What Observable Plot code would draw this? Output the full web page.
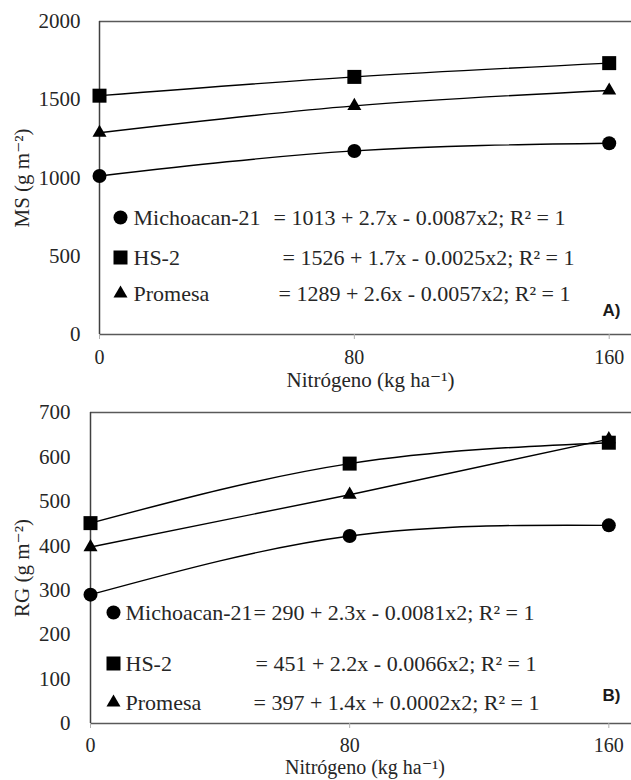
<!DOCTYPE html>
<html><head><meta charset="utf-8">
<script src="https://cdn.jsdelivr.net/npm/d3@7"></script>
<script src="https://cdn.jsdelivr.net/npm/@observablehq/plot@0.6"></script>
<style>
body{margin:0;background:#fff;}
#chart svg{display:block;}
#chart svg, #chart svg g, #chart svg text { font-family: "Liberation Serif", "Times New Roman", "DejaVu Serif", serif !important; }
#chart svg g[font-weight="bold"], #chart svg g[font-weight="bold"] text { font-family: "Liberation Sans", Arial, sans-serif !important; }
</style></head><body><div id="chart"></div>
<script>
// ---- data ----
const nitrogen = [0, 80, 160];
const xTicks = [0, 80, 160];
const cultivars = ["Michoacan-21", "HS-2", "Promesa"];

const msMichoacan = [1013, 1173, 1222];
const msHS2 = [1526, 1646, 1734];
const msPromesa = [1289, 1461, 1559];
const msTicks = [0, 500, 1000, 1500, 2000];
const msEquations = [
  "= 1013 + 2.7x - 0.0087x2; R² = 1",
  "= 1526 + 1.7x - 0.0025x2; R² = 1",
  "= 1289 + 2.6x - 0.0057x2; R² = 1"
];

const rgMichoacan = [290, 422, 446];
const rgHS2 = [451, 585, 632];
const rgPromesa = [397, 515, 640];
const rgTicks = [0, 100, 200, 300, 400, 500, 600, 700];
const rgEquations = [
  "= 290 + 2.3x - 0.0081x2; R² = 1",
  "= 451 + 2.2x - 0.0066x2; R² = 1",
  "= 397 + 1.4x + 0.0002x2; R² = 1"
];

// ---- styling ----
const serif = "Liberation Serif";
const ink = "#262626";
const symbols = ["circle", "square", "triangle"];
const sizes = [7, 7.9, 5.2];

function toRows(seriesList) {
  const rows = [];
  seriesList.forEach((vals, i) => vals.forEach((v, j) => rows.push({cultivar: cultivars[i], n: nitrogen[j], v})));
  return rows;
}

function panel({series, yTicks, yLabel, equations, tag, L}) {
  const rows = toRows(series);
  const yMax = yTicks[yTicks.length - 1];
  const marks = [
    Plot.ruleY([0], {stroke: "#595959", strokeWidth: 1.5}),
    Plot.ruleY([yMax], {stroke: "#595959", strokeWidth: 1.5}),
    Plot.axisX({ticks: xTicks, tickSize: 5, tickPadding: L.xPad, tickFormat: d => String(d), stroke: "#b0b0b0", fill: ink, fontSize: 20, label: null}),
    Plot.axisY({ticks: yTicks, tickSize: 0, tickPadding: L.yPad, tickFormat: d => String(d), fill: ink, fontSize: 21, label: null}),
    Plot.ruleX([0], {stroke: "#404040", strokeWidth: 1.5}),
    Plot.line(rows, {x: "n", y: "v", z: "cultivar", curve: "natural", stroke: "black", strokeWidth: 1.4})
  ];
  cultivars.forEach((c, i) => {
    marks.push(Plot.dot(rows.filter(d => d.cultivar === c), {x: "n", y: "v", symbol: symbols[i], r: sizes[i], fill: "black", stroke: "none"}));
    // legend
    marks.push(Plot.dot([c], {frameAnchor: "top-left", dx: L.mx, dy: L.rows[i], symbol: symbols[i], r: sizes[i], fill: "black", stroke: "none"}));
    marks.push(Plot.text([c], {frameAnchor: "top-left", text: d => d, dx: L.tx, dy: L.rows[i], textAnchor: "start", lineAnchor: "middle", fontSize: 22, fontFamily: serif, fill: ink}));
    marks.push(Plot.text([equations[i]], {frameAnchor: "top-left", text: d => d, dx: L.ex[i], dy: L.rows[i], textAnchor: "start", lineAnchor: "middle", fontSize: 22, fontFamily: serif, fill: ink}));
  });
  marks.push(Plot.text([yLabel], {frameAnchor: "left", text: d => d, dx: L.ylx, rotate: -90, textAnchor: "middle", lineAnchor: "middle", fontSize: 21, fontFamily: serif, fill: ink}));
  marks.push(Plot.text(["Nitrógeno (kg ha⁻¹)"], {frameAnchor: "bottom", text: d => d, dx: L.xlx, dy: L.xly, textAnchor: "middle", lineAnchor: "middle", fontSize: L.xlf, fontFamily: serif, fill: ink}));
  marks.push(Plot.text([tag], {frameAnchor: "bottom-right", text: d => d, dx: -11, dy: L.tagy, textAnchor: "end", lineAnchor: "middle", fontSize: 17, fontWeight: "bold", fontFamily: "Liberation Sans", fill: "#1a1a1a"}));

  return Plot.plot({
    width: 631, height: 390,
    marginLeft: L.ml, marginTop: L.mt, marginBottom: L.mb, marginRight: 0,
    x: {domain: [0, 167]},
    y: {domain: [0, yMax]},
    style: {fontSize: "21px", color: ink, background: "white", overflow: "visible"},
    marks
  });
}

const chart = document.getElementById("chart");
chart.append(panel({
  series: [msMichoacan, msHS2, msPromesa], yTicks: msTicks, yLabel: "MS (g m⁻²)", equations: msEquations, tag: "A)",
  L: {ml: 99, mt: 21, mb: 56, xPad: 10, yPad: 19, mx: 21, tx: 34, rows: [196, 236, 272], ex: [174, 183, 179], ylx: -77, xlx: 5, xly: 46, xlf: 21, tagy: -24}
}));
chart.append(panel({
  series: [rgMichoacan, rgHS2, rgPromesa], yTicks: rgTicks, yLabel: "RG (g m⁻²)", equations: rgEquations, tag: "B)",
  L: {ml: 90, mt: 22, mb: 57, xPad: 9, yPad: 20, mx: 23, tx: 35, rows: [200, 251, 290], ex: [163, 165, 163], ylx: -68, xlx: 4, xly: 44, xlf: 20, tagy: -28}
}));
</script></body></html>
